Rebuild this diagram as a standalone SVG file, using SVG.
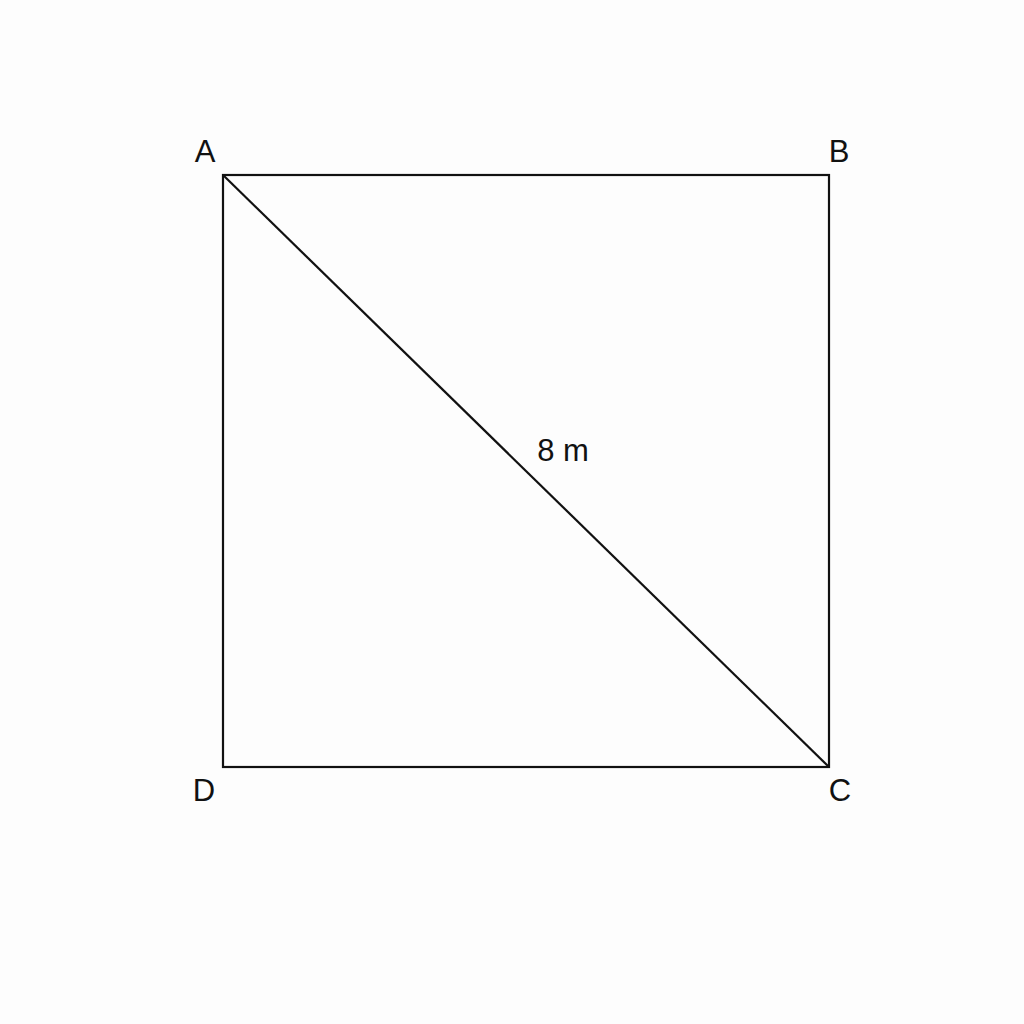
<svg xmlns="http://www.w3.org/2000/svg" width="1024" height="1024" viewBox="0 0 1024 1024">
<style>
.edge{stroke:#111;stroke-width:2.2;fill:none}
.lbl{font-family:"Liberation Sans",Arial,sans-serif;font-size:31px;fill:#111}
</style>
<rect width="1024" height="1024" fill="#fdfdfd"/>
<g id="connectors">
<rect class="edge" x="223" y="175" width="606" height="592"/>
<line class="edge" x1="223" y1="175" x2="829" y2="767"/>
</g>
<g id="A"><text class="lbl" x="205" y="162" text-anchor="middle">A</text></g>
<g id="B"><text class="lbl" x="839" y="162" text-anchor="middle">B</text></g>
<g id="C"><text class="lbl" x="840" y="801" text-anchor="middle">C</text></g>
<g id="D"><text class="lbl" x="204" y="801" text-anchor="middle">D</text></g>
<g id="diag-label"><text class="lbl" x="563" y="461" text-anchor="middle">8 m</text></g>
</svg>
